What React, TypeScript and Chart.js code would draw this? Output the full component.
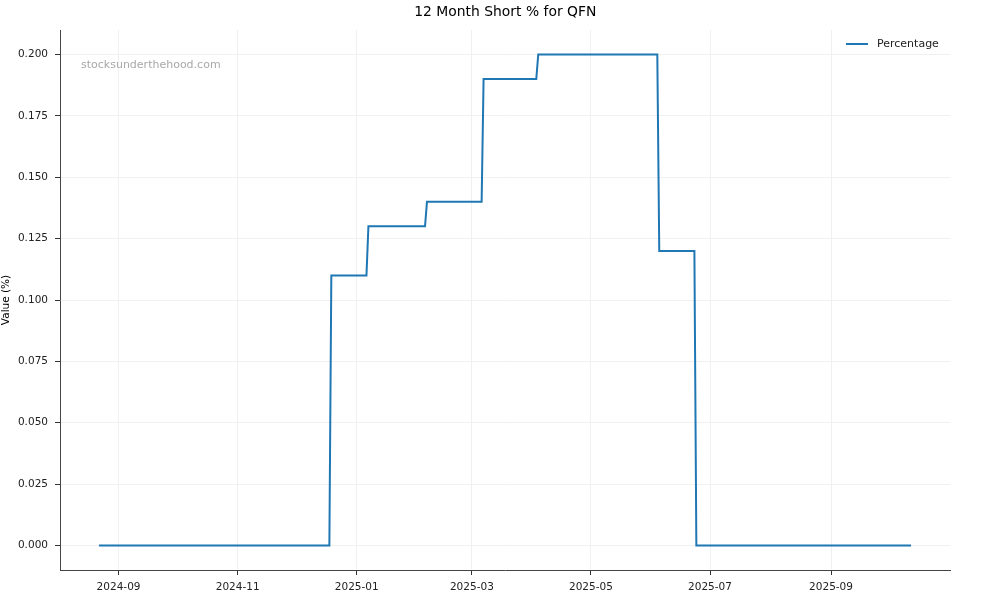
import React, { useEffect, useRef } from "react";
import { Chart, registerables } from "chart.js";

Chart.register(...registerables);

const chartTitle = "12 Month Short % for QFN";
const seriesLabel = "Percentage";
const yAxisTitle = "Value (%)";
const watermark = "stocksunderthehood.com";

const dates = [
  "2024-08-22", "2024-12-18", "2024-12-19", "2025-01-06", "2025-01-07",
  "2025-02-05", "2025-02-06", "2025-03-06", "2025-03-07", "2025-04-03",
  "2025-04-04", "2025-06-04", "2025-06-05", "2025-06-23", "2025-06-24",
  "2025-10-12",
];
const values = [
  0, 0, 0.11, 0.11, 0.13,
  0.13, 0.14, 0.14, 0.19, 0.19,
  0.2, 0.2, 0.12, 0.12, 0,
  0,
];
const xTickLabels = ["2024-09", "2024-11", "2025-01", "2025-03", "2025-05", "2025-07", "2025-09"];
const yTicks = [0, 0.025, 0.05, 0.075, 0.1, 0.125, 0.15, 0.175, 0.2];
const xRange = ["2024-08-02", "2025-11-01"];
const yRange = [-0.01, 0.21];

const FONT = "'DejaVu Sans', sans-serif";
const DAY = 86400000;
const toDay = (s: string) => {
  const p = s.split("-").map(Number);
  return Date.UTC(p[0], p[1] - 1, p[2] || 1) / DAY;
};
const dayLabel = (d: number) => {
  const dt = new Date(Math.round(d) * DAY);
  return dt.getUTCFullYear() + "-" + String(dt.getUTCMonth() + 1).padStart(2, "0");
};

const overlayPlugin = {
  id: "overlay",
  afterDraw(chart: any) {
    const ctx = chart.ctx;
    const a = chart.chartArea;
    ctx.save();
    // title
    ctx.font = `13.9px ${FONT}`;
    ctx.fillStyle = "#000";
    ctx.textAlign = "center";
    ctx.textBaseline = "middle";
    ctx.fillText(chartTitle, (a.left + a.right) / 2, 12.5);
    // watermark
    ctx.font = `11px ${FONT}`;
    ctx.fillStyle = "#a8a8a8";
    ctx.textAlign = "left";
    ctx.fillText(watermark, a.left + 21, a.top + 35.5);
    // legend
    ctx.strokeStyle = "#1f77b4";
    ctx.lineWidth = 2;
    ctx.beginPath();
    ctx.moveTo(a.right - 104.5, a.top + 14);
    ctx.lineTo(a.right - 82.5, a.top + 14);
    ctx.stroke();
    ctx.fillStyle = "#222";
    ctx.fillText(seriesLabel, a.right - 73.5, a.top + 14.5);
    ctx.restore();
  },
};

export default function App() {
  const ref = useRef<HTMLCanvasElement>(null);
  useEffect(() => {
    document.body.style.margin = "0";
    const chart = new Chart(ref.current as HTMLCanvasElement, {
      type: "line",
      data: {
        datasets: [
          {
            label: seriesLabel,
            data: dates.map((d, i) => ({ x: toDay(d), y: values[i] })),
            borderColor: "#1f77b4",
            backgroundColor: "#1f77b4",
            borderWidth: 2,
            pointRadius: 0,
            tension: 0,
            fill: false,
          },
        ],
      },
      options: {
        animation: false,
        responsive: false,
        layout: { padding: { left: 0, right: 49.5, top: 30, bottom: 0 } },
        plugins: {
          legend: { display: false },
          tooltip: { enabled: false },
          title: { display: false },
        },
        scales: {
          x: {
            type: "linear",
            min: toDay(xRange[0]),
            max: toDay(xRange[1]) + 0.2,
            afterBuildTicks: (scale: any) => {
              scale.ticks = xTickLabels.map((l) => ({ value: toDay(l + "-01") }));
            },
            afterFit: (scale: any) => {
              scale.height = 30;
            },
            ticks: {
              autoSkip: false,
              maxRotation: 0,
              color: "#222",
              font: { family: FONT, size: 10.5 },
              padding: 6,
              callback: (v: any) => dayLabel(Number(v)),
            },
            grid: { color: "#f0f0f0", tickColor: "#333", tickLength: 5, lineWidth: 1 },
            border: { display: true, color: "#444", width: 1 },
          },
          y: {
            type: "linear",
            min: yRange[0],
            max: yRange[1],
            afterBuildTicks: (scale: any) => {
              scale.ticks = yTicks.map((v) => ({ value: v }));
            },
            afterFit: (scale: any) => {
              scale.width = 60;
            },
            ticks: {
              color: "#222",
              font: { family: FONT, size: 10.5 },
              padding: 7,
              callback: (v: any) => Number(v).toFixed(3),
            },
            title: {
              display: true,
              text: yAxisTitle,
              color: "#000",
              font: { family: FONT, size: 10.5 },
              padding: 0,
            },
            grid: { color: "#f0f0f0", tickColor: "#333", tickLength: 5, lineWidth: 1 },
            border: { display: true, color: "#444", width: 1 },
          },
        },
      },
      plugins: [overlayPlugin],
    } as any);
    return () => chart.destroy();
  }, []);
  return (
    <div style={{ position: "fixed", left: 0, top: 0, width: 1000, height: 600, background: "#fff" }}>
      <canvas ref={ref} width={1000} height={600} style={{ width: 1000, height: 600 }} />
    </div>
  );
}
